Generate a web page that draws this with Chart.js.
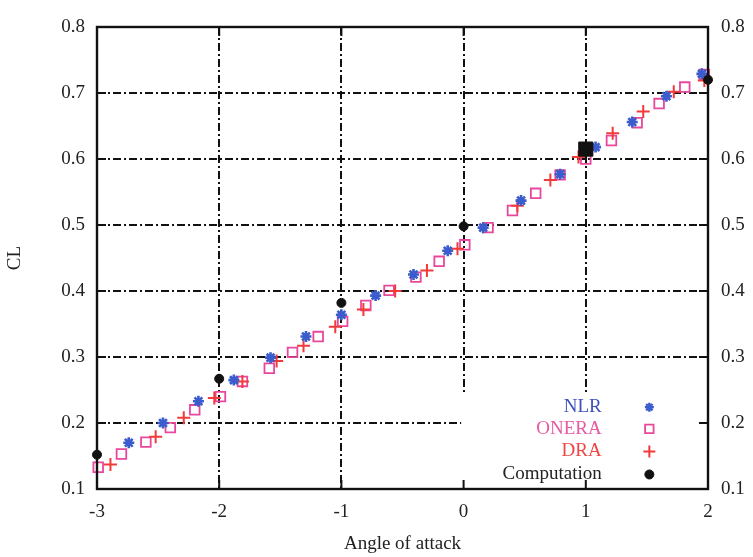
<!DOCTYPE html>
<html><head><meta charset="utf-8">
<script src="https://cdn.jsdelivr.net/npm/chart.js@4"></script>
<style>html,body{margin:0;padding:0;background:#fff}#wrap{width:753px;height:557px}</style>
</head><body><div id="wrap"><canvas id="c" width="753" height="557"></canvas></div>
<script>
// ---- data ----
const xTicks = [-3, -2, -1, 0, 1, 2];
const yTicks = [0.1, 0.2, 0.3, 0.4, 0.5, 0.6, 0.7, 0.8];
const legendLabels = ['NLR', 'ONERA', 'DRA', 'Computation'];

const nlrX = [-2.74,-2.46,-2.17,-1.88,-1.58,-1.29,-1.00,-0.72,-0.41,-0.13,0.16,0.47,0.79,1.08,1.38,1.66,1.95];
const nlrY = [0.170,0.200,0.233,0.265,0.299,0.331,0.364,0.393,0.425,0.461,0.496,0.537,0.577,0.618,0.656,0.695,0.729];

const oneraX = [-2.99,-2.80,-2.60,-2.40,-2.20,-1.99,-1.81,-1.59,-1.40,-1.19,-0.99,-0.80,-0.61,-0.39,-0.20,0.01,0.20,0.40,0.59,0.79,1.00,1.21,1.42,1.60,1.81,1.97];
const oneraY = [0.133,0.153,0.171,0.193,0.220,0.240,0.263,0.283,0.307,0.331,0.354,0.378,0.401,0.421,0.445,0.470,0.496,0.522,0.548,0.576,0.600,0.628,0.655,0.684,0.709,0.728];

const draX = [-2.89,-2.52,-2.29,-2.04,-1.81,-1.53,-1.31,-1.05,-0.82,-0.56,-0.30,-0.05,0.44,0.71,0.94,1.22,1.47,1.72,1.97];
const draY = [0.137,0.179,0.208,0.238,0.263,0.294,0.317,0.346,0.372,0.400,0.431,0.464,0.529,0.568,0.603,0.639,0.672,0.702,0.719];

const compX = [-3, -2, -1, 0, 1, 2];
const compY = [0.152, 0.267, 0.382, 0.498, 0.615, 0.720];

// ---- styles ----
const FONT = "'Liberation Serif', 'DejaVu Serif', serif";
const C_NLR = '#3a5ccc', C_ONERA = '#e8489c', C_DRA = '#f23a3a', C_COMP = '#111';
const legendColors = ['#3f52bd', '#e85aa2', '#ef4545', '#222'];

const pts = (xs, ys) => xs.map((x, i) => ({x: x, y: ys[i]}));

const datasets = [
  {label: legendLabels[3], data: pts(compX, compY), pointStyle: compX.map(v => v === 1 ? 'rect' : 'circle'),
   pointRadius: compX.map(v => v === 1 ? 10 : 4.5), backgroundColor: C_COMP, borderColor: C_COMP, borderWidth: 1, clip: false},
  {label: legendLabels[0], data: pts(nlrX, nlrY), pointStyle: 'star', pointRadius: 5.5,
   borderColor: C_NLR, backgroundColor: C_NLR, borderWidth: 2.6, clip: false},
  {label: legendLabels[2], data: pts(draX, draY), pointStyle: 'cross', pointRadius: 6.5,
   borderColor: C_DRA, backgroundColor: C_DRA, borderWidth: 2, clip: false},
  {label: legendLabels[1], data: pts(oneraX, oneraY), pointStyle: 'rect', pointRadius: 6.8,
   borderColor: C_ONERA, backgroundColor: 'rgba(255,255,255,0)', borderWidth: 1.8, clip: false}
];

const legendMarkers = [
  {style: 'star', r: 4.5, color: C_NLR, bw: 2.4, fill: C_NLR},
  {style: 'rect', r: 6, color: C_ONERA, bw: 1.8, fill: null},
  {style: 'cross', r: 6, color: C_DRA, bw: 2, fill: C_DRA},
  {style: 'circle', r: 4.5, color: C_COMP, bw: 1, fill: C_COMP}
];

const framePlugin = {
  id: 'frame',
  afterDatasetsDraw(chart) {
    const {ctx, chartArea: a, scales} = chart;
    const xs = scales.x, ys = scales.y;
    ctx.save();
    // key box (white, hides grid)
    const kl = xs.getPixelForValue(-0.02), kt = ys.getPixelForValue(0.245);
    ctx.fillStyle = '#fff';
    ctx.fillRect(kl, kt, a.right - kl, a.bottom - kt);
    // inward ticks
    ctx.strokeStyle = '#111'; ctx.lineWidth = 2; ctx.setLineDash([]);
    ctx.beginPath();
    xTicks.forEach(v => { const p = xs.getPixelForValue(v);
      ctx.moveTo(p, a.bottom); ctx.lineTo(p, a.bottom - 9);
      ctx.moveTo(p, a.top); ctx.lineTo(p, a.top + 9); });
    yTicks.forEach(v => { const p = ys.getPixelForValue(v);
      ctx.moveTo(a.left, p); ctx.lineTo(a.left + 9, p);
      ctx.moveTo(a.right, p); ctx.lineTo(a.right - 9, p); });
    ctx.stroke();
    // frame
    ctx.lineWidth = 2.4;
    ctx.strokeRect(a.left, a.top, a.right - a.left, a.bottom - a.top);
    // legend
    const tx = xs.getPixelForValue(1.13), mx = xs.getPixelForValue(1.52);
    const rowY = [0.224, 0.191, 0.157, 0.122].map(v => ys.getPixelForValue(v));
    ctx.font = '19px ' + FONT;
    ctx.textAlign = 'right'; ctx.textBaseline = 'middle';
    legendLabels.forEach((t, i) => {
      ctx.fillStyle = legendColors[i];
      ctx.fillText(t, tx, rowY[i]);
      const m = legendMarkers[i];
      ctx.strokeStyle = m.color; ctx.lineWidth = m.bw;
      ctx.fillStyle = m.fill || 'rgba(0,0,0,0)';
      Chart.helpers.drawPoint(ctx, {pointStyle: m.style, radius: m.r, rotation: 0, borderWidth: m.bw}, mx, rowY[i]);
    });
    ctx.restore();
  }
};

const gridOpts = {color: '#111', lineWidth: 2, drawTicks: false};
const borderOpts = {display: false, dash: [8, 3, 2, 3]};
const tickFont = {family: FONT, size: 19};

new Chart(document.getElementById('c'), {
  type: 'scatter',
  data: {datasets: datasets},
  options: {
    responsive: false, animation: false, devicePixelRatio: 1,
    layout: {padding: {top: 27, left: 0, right: 0, bottom: 0}},
    plugins: {legend: {display: false}, tooltip: {enabled: false}},
    scales: {
      x: {type: 'linear', position: 'bottom', min: -3, max: 2,
          afterBuildTicks: s => { s.ticks = xTicks.map(v => ({value: v})); },
          afterFit: s => { s.height = 68; },
          ticks: {font: tickFont, color: '#222', padding: 12, callback: v => String(v), maxRotation: 0},
          grid: gridOpts, border: borderOpts,
          title: {display: true, text: 'Angle of attack', font: {family: FONT, size: 19}, color: '#222', padding: {top: 0, bottom: 2}}},
      y: {type: 'linear', position: 'left', min: 0.1, max: 0.8,
          afterBuildTicks: s => { s.ticks = yTicks.map(v => ({value: v})); },
          afterFit: s => { s.width = 97; },
          ticks: {font: tickFont, color: '#222', padding: 12, callback: v => v.toFixed(1)},
          grid: gridOpts, border: borderOpts,
          title: {display: true, text: 'CL', font: {family: FONT, size: 19}, color: '#222', padding: {top: 4, bottom: 0}}},
      y2: {type: 'linear', position: 'right', min: 0.1, max: 0.8,
          afterBuildTicks: s => { s.ticks = yTicks.map(v => ({value: v})); },
          afterFit: s => { s.width = 45; },
          ticks: {font: tickFont, color: '#222', padding: 13, callback: v => v.toFixed(1)},
          grid: {drawOnChartArea: false, drawTicks: false}, border: {display: false}}
    }
  },
  plugins: [framePlugin]
});
</script>
</body></html>
